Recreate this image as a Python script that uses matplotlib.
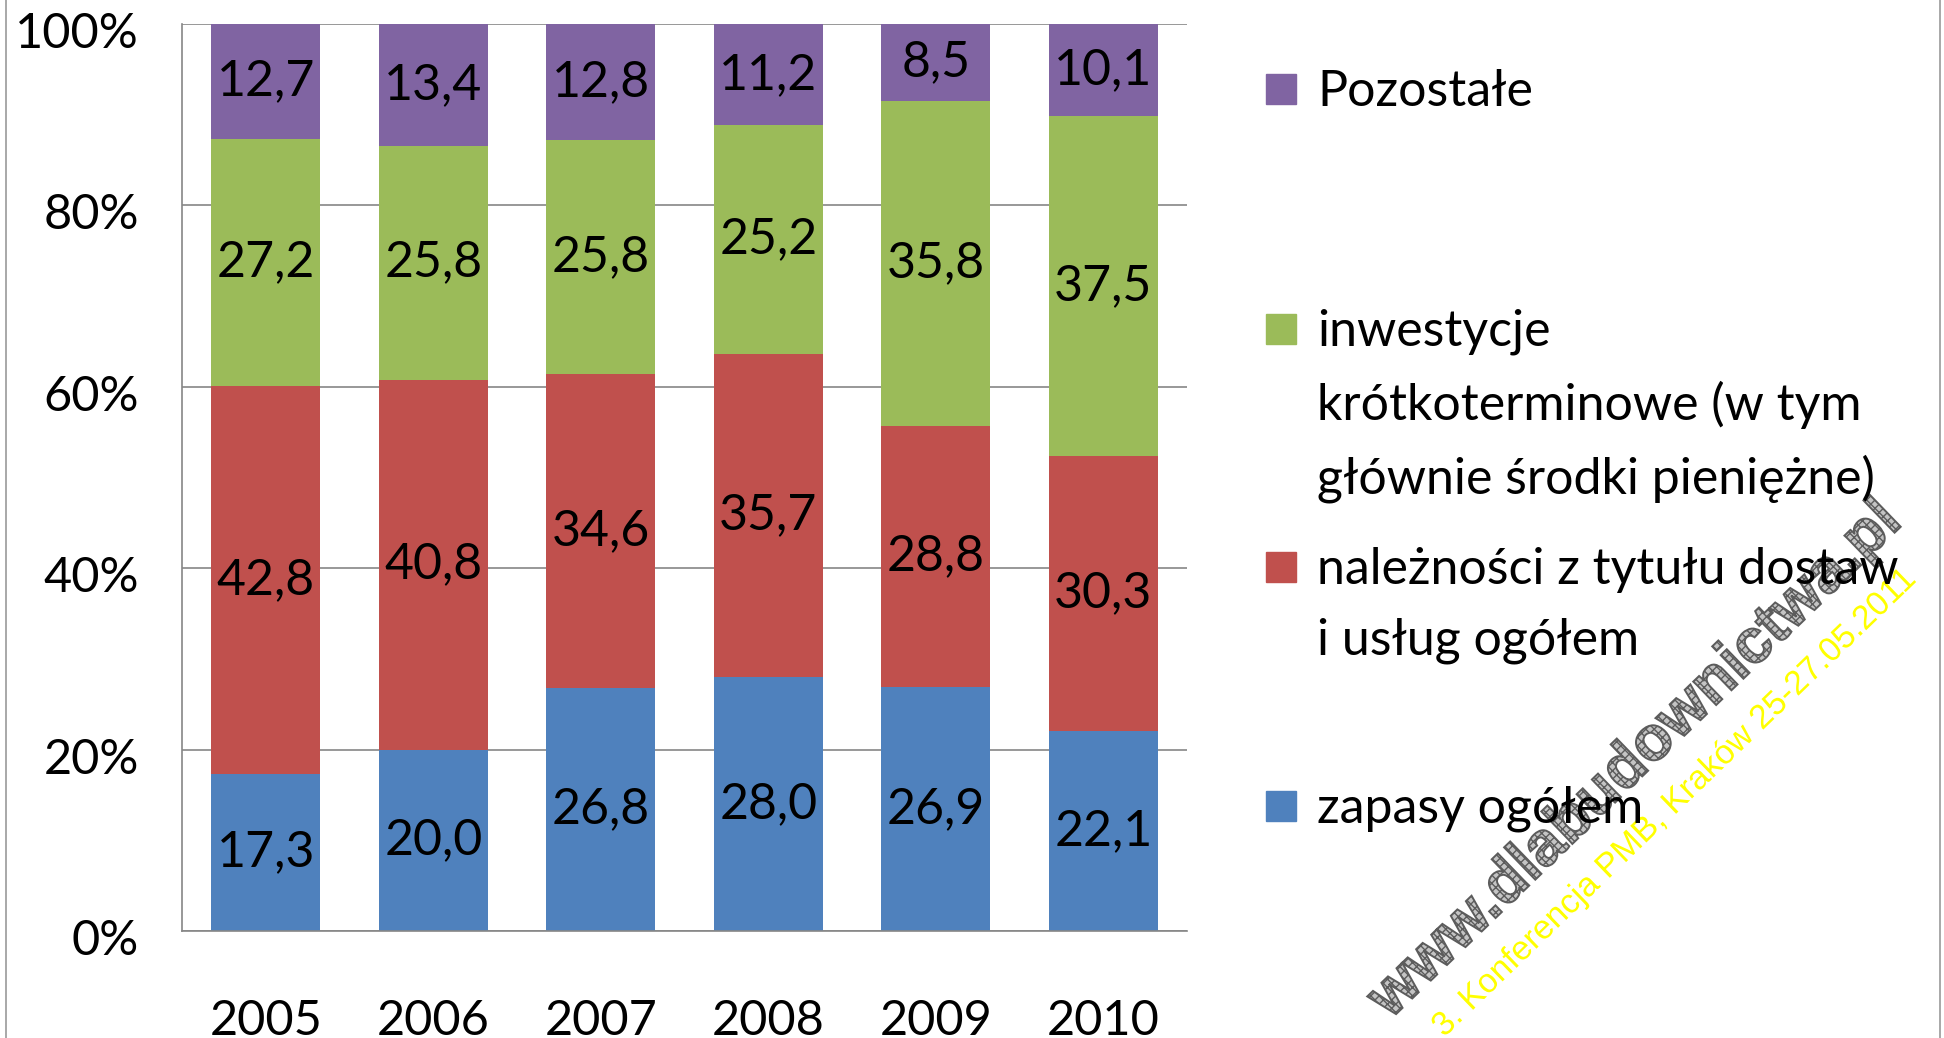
import numpy as np
import matplotlib
matplotlib.use("Agg")
import matplotlib.pyplot as plt
import matplotlib.transforms as mtransforms
from matplotlib.patches import PathPatch, Rectangle
from matplotlib.textpath import TextPath
from matplotlib.font_manager import FontProperties
from matplotlib.lines import Line2D

plt.rcParams['font.family'] = ['Lato', 'DejaVu Sans']

# Struktura aktywów obrotowych (%)
years = ['2005', '2006', '2007', '2008', '2009', '2010']
zapasy = [17.3, 20.0, 26.8, 28.0, 26.9, 22.1]
naleznosci = [42.8, 40.8, 34.6, 35.7, 28.8, 30.3]
inwestycje = [27.2, 25.8, 25.8, 25.2, 35.8, 37.5]
pozostale = [12.7, 13.4, 12.8, 11.2, 8.5, 10.1]

series_names = ['zapasy ogółem',
                'należności z tytułu dostaw\ni usług ogółem',
                'inwestycje\nkrótkoterminowe (w tym\ngłównie środki pieniężne)',
                'Pozostałe']
series_values = [zapasy, naleznosci, inwestycje, pozostale]
colors = ['#4F81BD', '#C0504D', '#9BBB59', '#8064A2']

W, H = 1944, 1038
fig = plt.figure(figsize=(W / 100, H / 100), dpi=100)
ax = fig.add_axes([182 / W, 1 - 931 / H, (1187 - 182) / W, (931 - 24) / H])

x = np.arange(len(years))
totals = np.sum(series_values, axis=0)
bottom = np.zeros(len(years))
for name, vals, col in zip(series_names, series_values, colors):
    share = np.array(vals) / totals
    bars = ax.bar(x, share, width=0.65, bottom=bottom, color=col, label=name, zorder=2)
    ax.bar_label(bars, labels=[f"{v:.1f}".replace('.', ',') for v in vals],
                 label_type='center', fontsize=36, color='black')
    bottom += share

ax.set_xlim(-0.5, len(years) - 0.5)
ax.set_ylim(0, 1)
ax.set_yticks(np.linspace(0, 1, 6))
ax.set_yticklabels([f"{int(t)}%" for t in np.linspace(0, 100, 6)], fontsize=35)
ax.set_xticks(x)
ax.set_xticklabels(years, fontsize=35)
ax.tick_params(axis='y', length=0, pad=31)
ax.tick_params(axis='x', length=0, pad=49)
ax.yaxis.grid(True, color='#868686', linewidth=1.2, zorder=0)
ax.set_axisbelow(True)
for s in ['top', 'right']:
    ax.spines[s].set_visible(False)
for s in ['left', 'bottom']:
    ax.spines[s].set_color('#868686')
    ax.spines[s].set_linewidth(1.2)

# etykiety osi Y lekko poniżej linii siatki
shift = mtransforms.ScaledTranslation(0, -6 / 100, fig.dpi_scale_trans)
for lab in ax.get_yticklabels():
    lab.set_transform(lab.get_transform() + shift)

# legenda po prawej stronie
legend_tops = [806, 567, 329, 89]
for name, col, yc in zip(series_names, colors, legend_tops):
    fig.add_artist(Rectangle((1266 / W, 1 - (yc + 15) / H), 30 / W, 30 / H,
                             transform=fig.transFigure, color=col))
    fig.text(1317 / W, 1 - (yc - 20) / H, name, fontsize=36, va='top', ha='left',
             linespacing=1.65)

# ramka wykresu
for xb in [6, 1940]:
    fig.add_artist(Line2D([xb / W, xb / W], [0, 1], transform=fig.transFigure,
                          color='#9a9a9a', linewidth=1.2))


def stamp(text, x0, y0, length, angle, fp, **kw):
    tp = TextPath((0, 0), text, size=100, prop=fp)
    ext = tp.get_extents()
    s = length / ext.width
    tr = (mtransforms.Affine2D().translate(-ext.x0, 0).scale(s)
          .rotate_deg(angle).translate(x0, y0))
    fig.add_artist(PathPatch(tp, transform=tr, **kw))


plt.rcParams['hatch.linewidth'] = 1.0
stamp('www.dlabudownictwa.pl', 1390, H - 1020, 710, 44,
      FontProperties(family='Liberation Sans', weight='bold'),
      facecolor='#c4c4c4', edgecolor='#5c5c5c', hatch='xxxx', linewidth=1.4)
stamp('3. Konferencja PMB, Kraków 25-27.05.2011', 1445, H - 1037, 655, 44,
      FontProperties(family='Liberation Sans'),
      facecolor='#ffff00', edgecolor='none')

fig.savefig('out.png', dpi=100)
